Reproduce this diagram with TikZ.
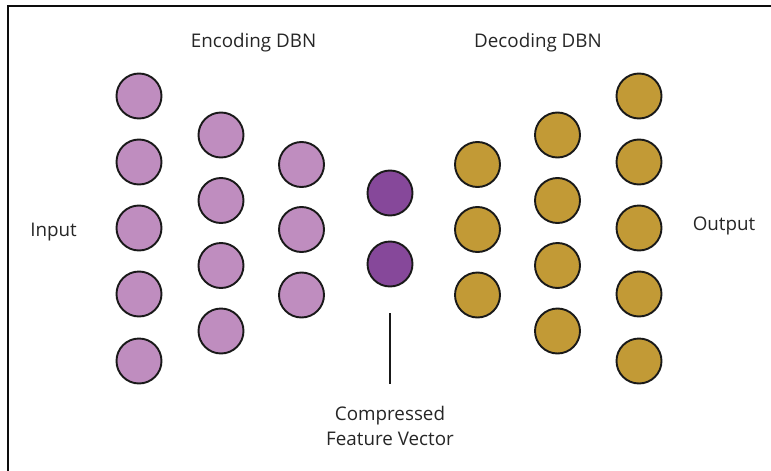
\documentclass[tikz,border=0pt]{standalone}
\usepackage{fontspec}
\setmainfont{Open Sans}
\definecolor{lightpurple}{HTML}{BF8DBF}
\definecolor{darkpurple}{HTML}{86489A}
\definecolor{gold}{HTML}{C29A36}
\tikzset{
  unit/.style={circle, draw=black!90, line width=1.9pt, minimum size=45pt, inner sep=0pt},
  enc/.style={unit, fill=lightpurple},
  code/.style={unit, fill=darkpurple},
  dec/.style={unit, fill=gold},
  lbl/.style={font=\fontsize{18.8pt}{22pt}\selectfont, text=black!85, inner sep=0pt, anchor=base},
}
\begin{document}
\begin{tikzpicture}[x=1pt,y=-1pt]
\useasboundingbox (0,0) rectangle (771,471);
% frame
\draw[line width=2.4pt, black!95] (771,6) -- (8,6) -- (8,471);
% columns
\foreach \y [count=\i] in {96,162,228,294,361} \node[enc] (a\i) at (139,\y) {};
\foreach \y [count=\i] in {135,200.5,265.5,331} \node[enc] (b\i) at (221,\y) {};
\foreach \y [count=\i] in {164.5,229.5,295} \node[enc] (c\i) at (301.5,\y) {};
\foreach \y [count=\i] in {193,264} \node[code] (d\i) at (390,\y) {};
\foreach \y [count=\i] in {164.5,229.5,295} \node[dec] (e\i) at (477.5,\y) {};
\foreach \y [count=\i] in {135,200.5,265.5,331} \node[dec] (f\i) at (557.5,\y) {};
\foreach \y [count=\i] in {96,162,228,294,361} \node[dec] (g\i) at (639,\y) {};
% labels
\node[lbl] (enclbl) at (253.5,47) {Encoding DBN};
\node[lbl] (declbl) at (538,47) {Decoding DBN};
\node[lbl] (inlbl) at (53.5,236.5) {Input};
\node[lbl] (outlbl) at (724,230.5) {Output};
\node[lbl] (cmp1) at (390,420) {Compressed};
\node[lbl] (cmp2) at (390,445) {Feature Vector};
% pointer line
\coordinate (ptop) at (390,313);
\coordinate (pbot) at (390,384);
\draw[line width=1.3pt, black!90] (ptop) -- (pbot);
\end{tikzpicture}
\end{document}
